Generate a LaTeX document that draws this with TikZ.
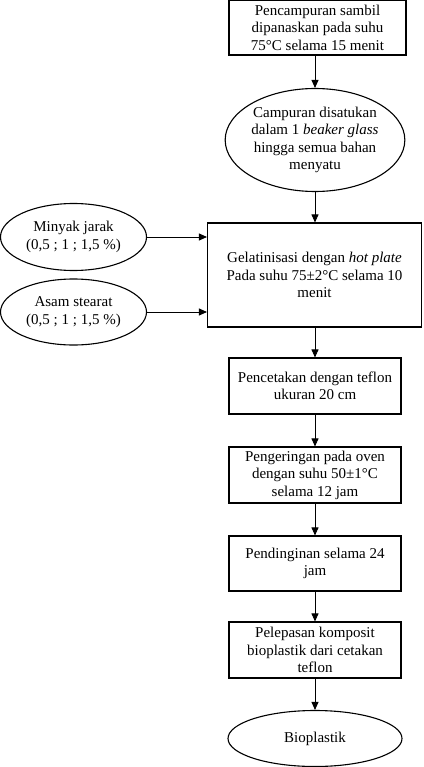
\documentclass[tikz,border=0pt]{standalone}
\usepackage{fontspec}
\setmainfont{Liberation Serif}
\usetikzlibrary{shapes.geometric,arrows.meta}
\begin{document}
\begin{tikzpicture}[x=1pt,y=1pt,
  every node/.style={font=\fontsize{15}{17.5}\selectfont, align=center, inner sep=0pt},
  procbox/.style={draw, line width=1.1pt, rectangle},
  oval/.style={draw, line width=1.1pt, ellipse},
  arr/.style={line width=0.9pt, -{Triangle[length=8pt,width=7pt]}}]
\useasboundingbox (0,0) rectangle (423,-767);
\node[procbox, minimum width=177pt, minimum height=55pt] (b1) at (317.5,-27.5) {Pencampuran sambil\\dipanaskan pada suhu\\75°C selama 15 menit};
\node[oval, minimum width=174pt, minimum height=103pt] (e2) at (315,-140) {Campuran disatukan\\dalam 1 \textit{beaker glass}\\hingga semua bahan\\menyatu};
\node[procbox, minimum width=214pt, minimum height=104pt] (b3) at (314.5,-275) {Gelatinisasi dengan \textit{hot plate}\\Pada suhu 75±2°C selama 10\\menit};
\node[oval, minimum width=146pt, minimum height=67pt] (m) at (73.5,-237) {Minyak jarak\\(0,5 ; 1 ; 1,5 \%)};
\node[oval, minimum width=146pt, minimum height=66pt] (a) at (73.5,-312) {Asam stearat\\(0,5 ; 1 ; 1,5 \%)};
\node[procbox, minimum width=172pt, minimum height=56pt] (b4) at (315,-386) {Pencetakan dengan teflon\\ukuran 20 cm};
\node[procbox, minimum width=172pt, minimum height=56pt] (b5) at (315,-475) {Pengeringan pada oven\\dengan suhu 50±1°C\\selama 12 jam};
\node[procbox, minimum width=172pt, minimum height=55pt] (b6) at (315,-563.5) {Pendinginan selama 24\\jam};
\node[procbox, minimum width=172pt, minimum height=56pt] (b7) at (315,-650) {Pelepasan komposit\\bioplastik dari cetakan\\teflon};
\node[oval, minimum width=174pt, minimum height=56pt] (e8) at (315,-738.5) {Bioplastik};
\draw[arr] (b1.south -| e2.north) -- (e2.north);
\draw[arr] (e2.south) -- (e2.south |- b3.north);
\draw[arr] (m.east) -- (m.east -| b3.west);
\draw[arr] (a.east) -- (a.east -| b3.west);
\draw[arr] (b3.south -| b4.north) -- (b4.north);
\draw[arr] (b4.south) -- (b5.north);
\draw[arr] (b5.south) -- (b6.north);
\draw[arr] (b6.south) -- (b7.north);
\draw[arr] (b7.south) -- (e8.north);
\end{tikzpicture}
\end{document}
